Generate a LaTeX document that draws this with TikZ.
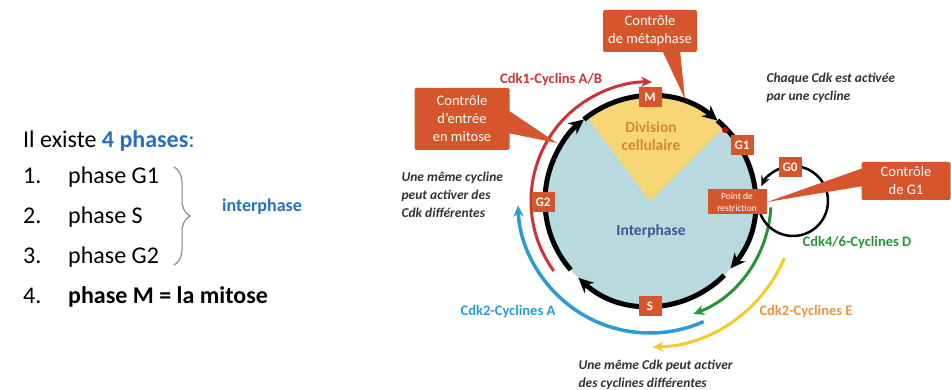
\documentclass[tikz,border=0pt]{standalone}
\usepackage{fontspec}
\setmainfont{Carlito}
\usetikzlibrary{calc,arrows.meta,decorations.pathreplacing}

\definecolor{callout}{RGB}{214,85,44}
\definecolor{cellfill}{RGB}{184,218,222}
\definecolor{wedgefill}{RGB}{247,214,118}
\definecolor{divtext}{RGB}{212,136,56}
\definecolor{intertext}{RGB}{62,86,150}
\definecolor{cdkred}{RGB}{200,52,56}
\definecolor{cdkblue}{RGB}{42,155,215}
\definecolor{cdkgreen}{RGB}{40,148,58}
\definecolor{cdkyellow}{RGB}{244,202,44}
\definecolor{cdkorange}{RGB}{232,150,62}
\definecolor{notetext}{RGB}{50,50,50}
\definecolor{titleblue}{RGB}{40,112,190}

\begin{document}
\begin{tikzpicture}[x=1pt,y=-1pt,
    phasebox/.style={fill=callout,text=white,font=\bfseries\fontsize{13}{13}\selectfont,
      minimum width=23pt,minimum height=20pt,inner sep=1pt},
    calloutbox/.style={fill=callout,text=white,rounded corners=2pt,align=center,
      font=\fontsize{14.5}{18}\selectfont},
    note/.style={text=notetext,align=left,anchor=west,font=\bfseries\itshape\fontsize{13.5}{18}\selectfont},
    cdklabel/.style={font=\bfseries\fontsize{14.5}{16}\selectfont},
    listline/.style={anchor=base west,inner sep=0pt,font=\fontsize{24}{26}\selectfont}]
    \useasboundingbox (0,0) rectangle (951,390);

    % save radii of the cell cycle and of the Cdk arcs to macros
    \pgfmathsetmacro{\Rcell}{105}
    \pgfmathsetmacro{\Rred}{119}
    \pgfmathsetmacro{\Rgreen}{121}
    \pgfmathsetmacro{\Rblue}{132}
    \pgfmathsetmacro{\Ryellow}{146}

    % list of phases on the left
    \node[listline] (titre) at (23,148) {Il existe \textcolor{titleblue}{\bfseries 4 phases}\textcolor{titleblue}{:}};
    \node[listline] (item1) at (23,184) {\makebox[45pt][l]{1.}phase G1};
    \node[listline] (item2) at (23,224) {\makebox[45pt][l]{2.}phase S};
    \node[listline] (item3) at (23,264) {\makebox[45pt][l]{3.}phase G2};
    \node[listline] (item4) at (23,303) {\makebox[45pt][l]{4.}\bfseries phase M = la mitose};
    \coordinate (braceTop) at (174,167);
    \coordinate (braceBot) at (174,265);
    \draw[gray,line width=1pt,decorate,decoration={brace,amplitude=16pt}] (braceTop) -- (braceBot);
    \node[text=titleblue,font=\bfseries\fontsize{18}{20}\selectfont] (interphaseLbl) at (262,207) {interphase};

    % the cell: interphase disc and mitosis wedge
    \coordinate (centro) at (650,201);
    \fill[cellfill] (centro) circle[radius=\Rcell pt];
    \fill[wedgefill] (centro) -- ++(45:\Rcell pt)
      arc[start angle=45,end angle=127,radius=\Rcell pt] -- cycle;
    \node[text=divtext,align=center,font=\bfseries\fontsize{15.5}{18}\selectfont] (division) at (651,136) {Division\\cellulaire};
    \node[text=intertext,font=\bfseries\fontsize{15.5}{18}\selectfont] (interphase) at (651,231) {Interphase};

    % black cycle, clockwise
    \foreach \a/\b in {221/129, 129/50, 50/-40, -45/-133}
      \draw[line width=5pt,-{Stealth[length=15pt,width=14pt]}] (centro) ++(\a:\Rcell pt)
        arc[start angle=\a,end angle=\b,radius=\Rcell pt];
    \fill[red!80!black] (725,130) circle[radius=3pt];

    % Cdk / cyclin arcs
    \draw[cdkred,line width=3pt,-{Stealth[length=11pt,width=10pt]}] (centro) ++(216:\Rred pt)
      arc[start angle=216,end angle=89,radius=\Rred pt];
    \draw[cdkblue,line width=3.5pt,-{Stealth[length=11pt,width=10pt]}] (centro) ++(-66:\Rblue pt)
      arc[start angle=-66,end angle=-178,radius=\Rblue pt];
    \draw[cdkgreen,line width=3pt,-{Stealth[length=11pt,width=10pt]}] (centro) ++(-3:\Rgreen pt)
      arc[start angle=-3,end angle=-69,radius=\Rgreen pt];
    \draw[cdkyellow,line width=3pt,-{Stealth[length=11pt,width=10pt]}] (centro) ++(-23:\Ryellow pt)
      arc[start angle=-23,end angle=-89,radius=\Ryellow pt];

    % G0 loop
    \coordinate (loopcentre) at (793,201);
    \draw[line width=2.5pt,-{Stealth[length=10pt,width=9pt]}] (loopcentre) ++(-160:35pt)
      arc[start angle=-160,end angle=155,radius=35pt];

    % phase labels on the cycle
    \node[phasebox] (M) at (650,97) {M};
    \node[phasebox] (G1) at (742,145) {G1};
    \node[phasebox] (S) at (650,306) {S};
    \node[phasebox] (G2) at (543,202) {G2};
    \node[phasebox] (G0) at (790,167) {G0};
    \node[fill=callout,text=white,align=center,font=\fontsize{9.5}{12}\selectfont,
      minimum width=59pt,minimum height=25pt,inner sep=1pt] (restriction) at (737,202) {Point de\\restriction};

    % checkpoints
    \node[calloutbox,minimum width=94pt,minimum height=42pt] (metaphase) at (650,31) {Contrôle\\de métaphase};
    \coordinate (metaphaseTip) at (685,99);
    \fill[callout] ([xshift=12pt,yshift=2pt]metaphase.south) -- (metaphaseTip)
      -- ([xshift=30pt,yshift=2pt]metaphase.south) -- cycle;
    \node[calloutbox,minimum width=95pt,minimum height=62pt] (mitose) at (462,119) {Contrôle\\d’entrée\\en mitose};
    \coordinate (mitoseTip) at (557,143);
    \fill[callout] ([xshift=-2pt,yshift=9pt]mitose.east) -- (mitoseTip)
      -- ([xshift=-2pt,yshift=-14pt]mitose.east) -- cycle;
    \node[calloutbox,minimum width=89pt,minimum height=38pt] (controleG1) at (906,181) {Contrôle\\de G1};
    \coordinate (G1Tip) at (767,202);
    \fill[callout] ([xshift=2pt,yshift=13pt]controleG1.west) -- (G1Tip)
      -- ([xshift=2pt,yshift=-5pt]controleG1.west) -- cycle;

    % Cdk labels and notes
    \node[cdklabel,text=cdkred] (cdk1) at (551,80) {Cdk1-Cyclins A/B};
    \node[cdklabel,text=cdkblue] (cdk2A) at (508,312) {Cdk2-Cyclines A};
    \node[cdklabel,text=cdkorange] (cdk2E) at (806,312) {Cdk2-Cyclines E};
    \node[cdklabel,text=cdkgreen] (cdk46) at (857,243) {Cdk4/6-Cyclines D};
    \node[note] (noteChaque) at (763,88) {Chaque Cdk est activée\\par une cycline};
    \node[note] (noteCycline) at (398,195) {Une même cycline\\peut activer des\\Cdk différentes};
    \node[note] (noteCdk) at (575,375) {Une même Cdk peut activer\\des cyclines différentes};
\end{tikzpicture}
\end{document}
